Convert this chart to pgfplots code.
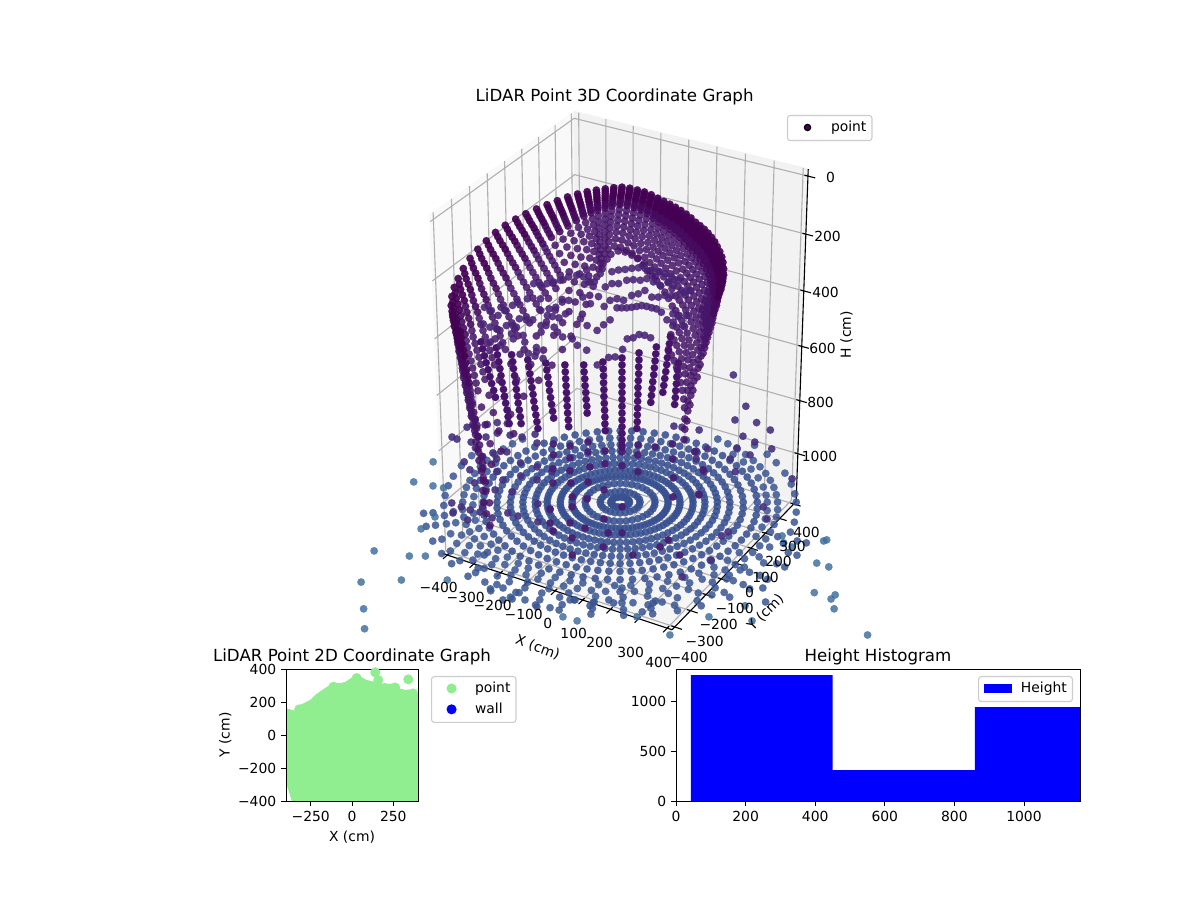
\documentclass[border=0pt]{standalone}
\usepackage{pgfplots}
\pgfplotsset{compat=1.18}
\usepackage{pgfplotstable}
\usepackage{fontspec}
\setmainfont{DejaVu Sans}
\newcommand\ten{\fontsize{10bp}{12bp}\selectfont}
\newcommand\twl{\fontsize{12bp}{14bp}\selectfont}
\definecolor{tA}{HTML}{440154}\definecolor{tB}{HTML}{450A5E}\definecolor{tC}{HTML}{46156A}\definecolor{tD}{HTML}{482476}
\definecolor{lowc}{HTML}{46146B}\definecolor{latt}{HTML}{471F72}\definecolor{latv}{HTML}{46307F}
\definecolor{flo}{HTML}{385090}\definecolor{flu}{HTML}{3A5592}\definecolor{far}{HTML}{3C6C9C}
\definecolor{lg}{HTML}{90EE90}\definecolor{fr}{HTML}{CCCCCC}
\pgfplotsset{
 pts/.style 2 args={forget plot,only marks,mark=*,color=#1,mark size=2.7pt,mark options={solid,draw=#1,fill=#1,line width=.1pt,fill opacity=#2,draw opacity=#2}},
 sA/.style={pts={tA}{.92}},sB/.style={pts={tB}{.9}},sC/.style={pts={tC}{.85}},sD/.style={pts={tD}{.88}},
 sL/.style={pts={lowc}{1}},sT/.style={pts={latt}{.95}},sV/.style={pts={latv}{.9}},
 sF/.style={pts={flo}{.88}},sU/.style={pts={flu}{.85}},sR/.style={pts={far}{.82}},
 ln/.style={forget plot,no marks,line width=.8bp,line join=round,#1},
 leg/.style={legend cell align=left,legend style={draw=fr,fill=white,fill opacity=.8,text opacity=1,rounded corners=2bp,line width=.8bp,font=\ten,inner xsep=4bp,inner ysep=4bp,row sep=5bp,nodes={inner sep=0pt,text height=7.5bp,text depth=2.5bp},#1}},
 dotl/.style 2 args={legend image code/.code={\path (0,0) (26.5bp,0);\fill[#1,fill opacity=1,sharp corners] (10bp,.4bp) circle (#2);}},
 rectl/.style={legend image code/.code={\path (0,0) (26.5bp,0);\fill[#1,fill opacity=1,sharp corners] (0,-3.2bp) rectangle (20bp,3.8bp);}},
}
% azimuth lists (degrees, counted from the view's horizontal direction)
\pgfplotstableread[row sep=\\]{az\\0\\5\\10\\15\\20\\25\\30\\35\\40\\45\\50\\55\\60\\65\\70\\75\\80\\85\\90\\95\\100\\105\\110\\115\\120\\125\\130\\135\\140\\145\\150\\155\\160\\165\\170\\175\\180\\185\\190\\195\\200\\205\\210\\215\\220\\225\\230\\235\\240\\245\\250\\255\\260\\265\\270\\275\\280\\285\\290\\295\\300\\305\\310\\315\\320\\325\\330\\335\\340\\345\\350\\355\\}\azA
\pgfplotstableread[row sep=\\]{az\\0\\10\\20\\30\\40\\50\\60\\70\\80\\90\\100\\110\\120\\130\\140\\150\\160\\170\\180\\190\\200\\210\\220\\230\\240\\250\\260\\270\\280\\290\\300\\310\\320\\330\\340\\350\\}\azB
\pgfplotstableread[row sep=\\]{az\\0\\15\\30\\45\\60\\75\\90\\105\\120\\135\\150\\165\\180\\195\\210\\225\\240\\255\\270\\285\\300\\315\\330\\345\\}\azC
\pgfplotstableread[row sep=\\]{az\\0\\20\\40\\60\\80\\100\\120\\140\\160\\180\\200\\220\\240\\260\\280\\300\\320\\340\\}\azD
\pgfplotstableread[row sep=\\]{az\\-25\\-18\\-12\\-6\\0\\5\\11\\18\\25\\31\\38\\150\\157\\164\\170\\176\\182\\188\\193\\199\\205\\211\\216\\222\\228\\233\\239\\245\\251\\256\\262\\268\\274\\281\\288\\295\\301\\308\\315\\322\\}\azF
\pgfplotstableread[row sep=\\]{az\\186\\193\\201\\208\\214\\222\\231\\238\\246\\253\\262\\271\\279\\286\\293\\302\\309\\316\\324\\331\\338\\}\azG
\pgfplotstableread[row sep=\\]{az\\-40\\-35\\-30\\-25\\-20\\-15\\-10\\-5\\0\\5\\10\\15\\20\\25\\30\\35\\40\\45\\50\\130\\135\\140\\145\\150\\155\\160\\165\\170\\175\\180\\185\\190\\195\\200\\205\\210\\215\\220\\225\\230\\235\\240\\245\\250\\255\\260\\265\\270\\275\\280\\285\\290\\295\\300\\305\\310\\315\\}\azH
% wall profile: view azimuth, horizontal distance, height scale, drift
\pgfplotstableread[row sep=\\]{psi D h t\\-30 348 522 0\\-25 337 509 0\\-20 326 496 0\\-15 316 480 0\\-10 307 470 0\\-5 298 459 0\\0 290 450 0\\5 284 440 0\\10 278 431 0\\15 273 423 0\\20 269 417 0\\25 265 411 0\\30 262 406 0\\35 260 390 0\\40 259 378 0\\45 258 366 0\\50 258 356 0\\55 259 347 0\\60 260 338 0\\65 263 326 0\\70 266 309 0\\75 270 297 0\\80 275 292 0\\85 280 286 0\\90 286 286 0\\95 293 299 0\\100 301 316 15\\105 310 332 30\\110 319 348 60\\115 329 368 85\\120 341 392 110\\125 353 420 130\\130 365 445 150\\135 378 469 170\\140 392 494 190\\145 405 518 200\\150 420 546 210\\155 434 577 205\\160 448 614 190\\165 462 647 160\\170 476 681 120\\175 490 720 85\\180 502 753 50\\185 514 771 25\\190 525 788 0\\195 535 803 0\\200 543 815 0\\205 550 825 0\\210 557 836 0\\}\wall
\newcommand\GX[1]{\addplot[ln={#1}] table[row sep=\\,x expr={pq(\thisrow{X},\thisrow{Y},\thisrow{H})},y expr={pr(\thisrow{X},\thisrow{Y},\thisrow{H})}]}
\newcommand\F[3]{\def\Rr{#2}\addplot[#1] table[x index=0,y index=0,x expr={px(-6+\Rr*cos(\thisrow{az}),\Rr*sin(\thisrow{az}),1088)},y expr={py(-6+\Rr*cos(\thisrow{az}),\Rr*sin(\thisrow{az}),1088)}] {#3};}
\newcommand\Fr[2]{\addplot[#1] table[row sep=\\,x expr={px(\thisrow{a},\thisrow{b},1088)},y expr={py(\thisrow{a},\thisrow{b},1088)}] {a b\\#2};}
\newcommand\C[3]{\def\Bb{#2}\addplot[#1] table[row sep=\\,x expr={px(\thisrow{a},\Bb,\thisrow{H})},y expr={py(\thisrow{a},\Bb,\thisrow{H})}] {a H\\#3};}
\newcommand\W[4][]{\def\Cc{#3}\def\Ss{#4}\addplot[#2,#1] table[x expr={px(-120+\Ss*(\thisrow{D}*cos(\thisrow{psi})+120)+\thisrow{t}*(\Cc-.364),\thisrow{D}*sin(\thisrow{psi}),\Cc*\thisrow{h})},y expr={py(-120+\Ss*(\thisrow{D}*cos(\thisrow{psi})+120)+\thisrow{t}*(\Cc-.364),\thisrow{D}*sin(\thisrow{psi}),\Cc*\thisrow{h})}] {\wall};}
\newcommand\Gx[1]{\GX{draw=gr}{X Y H\\#1 -417 1184\\#1 417 1184\\#1 417 -24\\};}
\newcommand\Gy[1]{\GX{draw=gr}{X Y H\\417 #1 1184\\-417 #1 1184\\-417 #1 -24\\};}
\newcommand\Gz[1]{\GX{draw=gr}{X Y H\\-417 -417 #1\\-417 417 #1\\417 417 #1\\};}
\newcommand\Tx[1]{\GX{draw=black}{X Y H\\#1 -405 1184\\#1 -442 1184\\};}
\newcommand\Ty[1]{\GX{draw=black}{X Y H\\405 #1 1184\\442 #1 1184\\};}
\newcommand\Tz[1]{\GX{draw=black}{X Y H\\405 417 #1\\442 417 #1\\};}
\definecolor{gr}{HTML}{B0B0B0}\definecolor{pL}{HTML}{F9F9F9}\definecolor{pB}{HTML}{F2F2F2}\definecolor{pF}{HTML}{F5F5F5}
\begin{document}
\begin{tikzpicture}
\path[use as bounding box] (0,0) rectangle (12in,9in);
\begin{axis}[at={(0in,2.644in)},anchor=south west,scale only axis,width=12in,height=6.356in,
 xmin=0,xmax=1200,ymin=264.4,ymax=900,axis line style={draw=none},ticks=none,clip=true,
 declare function={dn(\b,\H)=10-.001129*(-.866*\b+.5*(580-\H));
  px(\a,\b,\H)=622+3.2064*\a/dn(\b,\H);
  py(\a,\b,\H)=535+3.2064*(.5*\b+.866*(580-\H))/dn(\b,\H);
  pq(\X,\Y,\H)=px(.866*\X+.5*\Y,-.5*\X+.866*\Y,\H);
  pr(\X,\Y,\H)=py(.866*\X+.5*\Y,-.5*\X+.866*\Y,\H);},
 leg={at={(.6558,.8191)},anchor=north west}]
\addlegendimage{dotl={fill=tA}{2.3bp}}
\addlegendentry{point}
% panes
\GX{fill=pL,draw=pL}{X Y H\\-417 -417 1184\\-417 417 1184\\-417 417 -24\\-417 -417 -24\\-417 -417 1184\\};
\GX{fill=pB,draw=pB}{X Y H\\-417 417 1184\\417 417 1184\\417 417 -24\\-417 417 -24\\-417 417 1184\\};
\GX{fill=pF,draw=pF}{X Y H\\-417 -417 1184\\417 -417 1184\\417 417 1184\\-417 417 1184\\-417 -417 1184\\};
% grid
\Gx{-400}\Gx{-300}\Gx{-200}\Gx{-100}\Gx{0}\Gx{100}\Gx{200}\Gx{300}\Gx{400}
\Gy{-400}\Gy{-300}\Gy{-200}\Gy{-100}\Gy{0}\Gy{100}\Gy{200}\Gy{300}\Gy{400}
\Gz{0}\Gz{200}\Gz{400}\Gz{600}\Gz{800}\Gz{1000}
% axis lines and ticks
\GX{draw=black}{X Y H\\-417 -417 1184\\417 -417 1184\\417 417 1184\\417 417 -24\\};
\Tx{-400}\Tx{-300}\Tx{-200}\Tx{-100}\Tx{0}\Tx{100}\Tx{200}\Tx{300}\Tx{400}
\Ty{-400}\Ty{-300}\Ty{-200}\Ty{-100}\Ty{0}\Ty{100}\Ty{200}\Ty{300}\Ty{400}
\Tz{0}\Tz{200}\Tz{400}\Tz{600}\Tz{800}\Tz{1000}
% floor rings
\F{sU}{630}{\azG}\F{sU}{600}{\azG}\F{sU}{565}{\azF}\F{sU}{535}{\azG}\F{sU}{505}{\azH}\F{sU}{472}{\azF}
\F{sF}{440}{\azA}\F{sF}{395}{\azA}\F{sF}{352}{\azA}\F{sF}{312}{\azA}\F{sF}{272}{\azA}\F{sF}{234}{\azA}\F{sF}{192}{\azA}
\F{sF}{154}{\azA}\F{sF}{112}{\azB}\F{sF}{64}{\azC}\F{sF}{30}{\azD}
% far floor points
\Fr{sR}{-620 244\\-676 121\\-612 97\\-577 85\\-595 -87\\-635 -156\\-774 -281\\-662 -310\\-612 -310\\-801 -453\\-678 -442\\-537 -442\\-782 -596\\-771 -700\\-178 -638\\-135 -659\\45 -638\\143 -732\\262 -638\\224 -745\\373 -580\\391 -659\\504 -196\\507 -236\\532 -259\\633 -225\\643 -219\\604 -349\\640 -370\\587 -510\\650 -522\\636 -544\\642 -596\\733 -732\\}
\Fr{sU}{-429 -304\\-445 -376\\-421 -453\\-364 -485\\-401 -500\\-314 -510\\-362 -549\\-334 -544\\-295 -549\\-258 -585\\-218 -590\\-158 -549\\-146 -549\\-97 -580\\-88 -565\\61 -612\\79 -575\\94 -565\\122 -560\\0 -565\\-40 -549\\0 -485\\274 -332\\322 -436\\365 -387\\274 -522\\436 -560\\431 -485\\}
% scattered violet points over the floor
\Fr{sV}{-519 463\\-486 475\\-452 481\\-419 493\\-385 487\\-480 405\\-453 400\\-416 425\\-373 412\\-333 400\\-290 418\\-566 400\\-549 387\\-501 368\\-485 331\\-462 275\\-426 300\\-412 262\\-380 306\\-282 362\\-518 244\\-497 195\\-455 207\\-409 183\\-333 238\\-278 213\\-229 183\\-330 158\\-276 133\\-478 115\\-387 133\\-410 73\\-355 61\\-546 -5\\-514 -28\\-539 -64\\-485 -46\\-446 -28\\-453 -58\\-490 -105\\-413 -93\\-364 -64\\-331 -82\\-270 -11\\-230 -46\\-267 -116\\258 445\\201 463\\174 470\\380 510\\452 493\\496 445\\403 405\\441 368\\495 325\\422 287\\283 325\\245 312\\553 140\\380 331\\356 262\\370 183\\268 183\\244 262\\247 49\\185 -425\\277 -332\\335 -173\\314 -196\\461 -99\\452 -28\\385 811\\420 600\\}
\Fr{sT}{-228 356\\-226 287\\-172 343\\-171 268\\-113 368\\-112 306\\-56 312\\0 350\\0 306\\53 350\\52 287\\109 337\\168 356\\166 262\\240 306\\-226 201\\-170 189\\-105 213\\-56 232\\0 220\\52 183\\167 145\\-224 115\\-166 115\\-110 121\\248 43\\265 195\\-160 31\\-112 19\\-58 73\\164 31\\0 -28\\-230 -40\\-160 -28\\-57 -99\\-117 -151\\-165 -122\\-228 -122\\-218 -168\\-157 -208\\-44 -179\\0 -179\\-59 -259\\145 -219\\119 -259\\180 -304\\34 -304\\-155 -304\\}
% lower back-wall columns
\C{sL}{300}{-455 667\\-450 693\\-445 719\\-440 745\\-434 771\\-429 797\\-424 823\\-418 849\\-413 875\\}
\C{sL}{300}{-406 689\\-403 715\\-399 741\\-396 767\\-393 793\\-390 819\\-386 845\\-383 871\\-380 897\\-376 923\\-373 949\\-370 975\\}
\C{sL}{300}{-357 715\\-354 741\\-352 767\\-349 793\\-346 819\\-344 845\\-341 871\\-339 897\\-336 923\\-333 949\\-331 975\\}
\C{sL}{300}{-305 734\\-302 760\\-299 786\\-296 812\\-293 838\\-290 864\\-288 890\\-285 916\\-282 942\\-279 968\\-276 994\\}
\C{sL}{300}{-247 746\\-244 772\\-241 798\\-238 824\\-236 850\\-233 876\\-230 902\\-227 928\\-224 954\\}
\C{sL}{300}{-185 753\\-184 779\\-183 805\\-182 831\\-181 857\\-180 883\\-179 909\\-178 935\\-176 961\\-175 987\\}
\C{sL}{300}{-124 753\\-123 779\\-121 805\\-120 831\\-118 857\\-117 883\\-115 909\\-114 935\\}
\C{sL}{300}{-62 742\\-61 768\\-60 794\\-60 820\\-59 846\\-59 872\\-58 898\\-57 924\\-56 950\\-56 976\\-55 1002\\}
\C{sL}{300}{0 727\\0 753\\0 779\\0 805\\0 831\\0 857\\0 883\\0 909\\0 935\\0 961\\0 987\\0 1013\\0 1039\\0 1065\\}
\C{sL}{300}{55 708\\55 734\\54 760\\54 786\\53 812\\52 838\\52 864\\51 890\\51 916\\50 942\\50 968\\49 994\\}
\C{sL}{300}{111 686\\109 712\\107 738\\105 764\\103 790\\100 816\\98 842\\96 868\\94 894\\}
\C{sL}{300}{156 648\\153 674\\150 700\\147 726\\145 752\\142 778\\139 804\\136 830\\133 856\\}
\C{sL}{300}{182 746\\180 772\\178 798\\177 824\\175 850\\174 876\\172 902\\}
% upper wall rows: each row one elevation of the scan
\W{sC}{1.09}{.80}\W{sC}{1.0}{.83}\W{sC}{.916}{.85}\W{sC}{.839}{.87}
\W[skip coords between index={6}{34}]{sC}{.803}{.88}\W{sC}{.767}{.89}\W[skip coords between index={6}{34}]{sC}{.733}{.90}\W{sC}{.70}{.91}\W[skip coords between index={6}{34}]{sC}{.668}{.92}
\W{sC}{.637}{.93}\W[skip coords between index={6}{34}]{sC}{.607}{.935}\W{sB}{.577}{.94}\W{sB}{.549}{.95}\W{sB}{.521}{.96}\W{sB}{.493}{.965}\W{sA}{.466}{.97}\W{sA}{.44}{.98}\W{sA}{.414}{.99}\W{sA}{.389}{.995}\W{sA}{.364}{1}
\W[skip coords between index={12}{49}]{sC}{1.19}{.78}\W[skip coords between index={12}{49}]{sC}{1.30}{.76}\W[skip coords between index={12}{49}]{sC}{1.43}{.74}
\W[skip coords between index={0}{41}]{sC}{1.19}{.80}
\W[skip coords between index={0}{18},skip coords between index={29}{49}]{sC}{1.15}{.9}
% sparse arcs on the back wall
\C{sD}{286}{-69 410\\-32 403\\-11 397\\10 395\\31 391\\52 389\\73 391\\95 397\\116 403\\137 410\\158 422\\179 434\\-101 440\\-88 440\\-53 458\\-32 446\\-11 446\\15 434\\36 432\\58 434\\79 428\\100 440\\121 452\\147 440\\163 452\\-75 493\\-38 507\\-16 501\\5 507\\31 489\\52 483\\73 471\\95 495\\116 495\\137 489\\158 489\\184 483\\200 477\\216 471\\-101 519\\-57 529\\-16 534\\-1 534\\15 534\\31 532\\47 529\\63 526\\79 529\\95 534\\110 538\\126 550\\163 556\\179 566\\-38 578\\-59 596\\-80 617\\144 578\\163 599\\206 562\\195 599\\17 648\\36 644\\55 632\\73 635\\92 644\\2 687\\-22 715\\-43 717\\-80 745\\}
\C{sD}{286}{-281 446\\-260 452\\-239 446\\-218 440\\-196 434\\-170 422\\-144 416\\-122 422\\-107 440\\-191 513\\-170 507\\-125 495\\-212 532\\-233 538\\-260 544\\-239 562\\-223 566\\-202 571\\-181 556\\-133 574\\-112 599\\-329 574\\-307 578\\-286 578\\-260 599\\-244 599\\-218 605\\-207 623\\-191 641\\-260 623\\-371 599\\-350 599\\-339 605\\-403 611\\-424 605\\-445 593\\-392 617\\-408 648\\-424 660\\-355 629\\-350 648\\-318 635\\-313 660\\-392 672\\-276 680\\-276 696\\-255 721\\-160 648\\-144 672\\-114 690\\-329 705\\-302 702\\-281 712\\-260 501\\-302 501\\-334 513\\-350 525\\-376 544\\-387 532\\-397 562\\-418 544\\-440 532\\-112 397\\}
\end{axis}
\begin{scope}[x=.01in,y=-.01in,yshift=9in,font=\ten]
\node[font=\twl] at (615,96.5) {LiDAR Point 3D Coordinate Graph};
\node at (439,588) {−400};\node at (466,598) {−300};\node at (493,606) {−200};\node at (524,615) {−100};\node at (548,624) {0};\node at (574,634) {100};\node at (600,643) {200};\node at (631,653) {300};\node at (659,662.7) {400};
\node at (689,658) {−400};\node at (705,642) {−300};\node at (719,625) {−200};\node at (735,609) {−100};\node at (750,593) {0};\node at (766,578) {100};\node at (779,562) {200};\node at (793,547) {300};\node at (807,533) {400};
\node at (831,178) {0};\node at (828,237) {200};\node at (826,293) {400};\node at (823,349) {600};\node at (821,403) {800};\node at (820,457) {1000};
\node[rotate=-20] at (538,648) {X (cm)};\node[rotate=45] at (766,613) {Y (cm)};\node[rotate=90] at (847,335) {H (cm)};
\end{scope}
\begin{axis}[at={(2.86in,.99in)},anchor=south west,scale only axis,width=1.32in,height=1.32in,
 xmin=-400,xmax=400,ymin=-400,ymax=400,axis on top,
 xtick={-250,0,250},xticklabels={−250,0,250},ytick={-400,-200,0,200,400},yticklabels={−400,−200,0,200,400},
 tick align=outside,xtick pos=bottom,ytick pos=left,major tick length=3.5bp,
 tick style={black,line width=.7bp},axis line style={line width=.7bp},
 tick label style={font=\ten},label style={font=\ten},xlabel={X (cm)},ylabel={Y (cm)},ylabel shift={-2bp},
 title={LiDAR Point 2D Coordinate Graph},title style={font=\twl,yshift=-6.5bp},
 leg={at={(1.0985,.947)},anchor=north west}]
\addplot[forget plot,fill=lg,draw=none] coordinates {(-400,162)(-345,147)(-315,182)(-254,212)(-224,242)(-174,277)(-113,317)(-53,313)(28,368)(89,333)(200,309)(261,313)(301,273)(370,276)(400,242)(400,-400)(-365,-400)(-392,-313)(-400,-280)};
\addplot[only marks,mark=*,color=lg,mark size=3.4pt,mark options={solid,fill=lg,draw=lg},dotl={fill=lg}{3.2bp}] coordinates {(28,345)(141,380)(159,333)(341,337)(-320,155)(-113,292)(200,285)(261,288)(370,252)(300,250)(-50,290)};
\addlegendentry{point}
\addplot[only marks,mark=*,color=blue,mark size=3.4pt,dotl={fill=blue}{3.2bp}] coordinates {(1000,1000)};
\addlegendentry{wall}
\end{axis}
\begin{axis}[at={(6.76in,.99in)},anchor=south west,scale only axis,width=4.04in,height=1.32in,
 xmin=0,xmax=1161,ymin=0,ymax=1330,axis on top,
 xtick={0,200,400,600,800,1000},ytick={0,500,1000},
 xticklabels={0,200,400,600,800,1000},yticklabels={0,500,1000},
 tick align=outside,xtick pos=bottom,ytick pos=left,major tick length=3.5bp,
 tick style={black,line width=.7bp},axis line style={line width=.7bp},
 tick label style={font=\ten},
 title={Height Histogram},title style={font=\twl,yshift=-6.5bp},
 leg={at={(.9827,.947)},anchor=north east}]
\addplot[ybar interval,fill=blue,draw=none,rectl=fill=blue] coordinates {(43,1269)(450,312)(859,947)(1267,947)};
\addlegendentry{Height}
\end{axis}
\end{tikzpicture}
\end{document}
